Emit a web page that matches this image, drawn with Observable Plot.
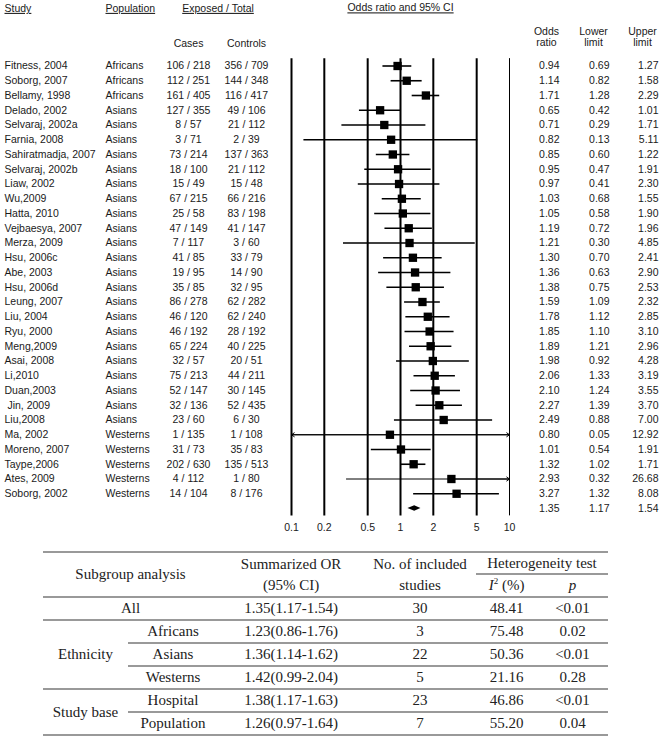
<!DOCTYPE html>
<html>
<head>
<meta charset="utf-8">
<script src="https://cdn.jsdelivr.net/npm/d3@7"></script>
<script src="https://cdn.jsdelivr.net/npm/@observablehq/plot@0.6"></script>
<style>
  html, body { margin: 0; padding: 0; background: #fff; }
  #wrap { position: relative; width: 662px; height: 741px; overflow: hidden; background:#fff; }
  #forest { position: absolute; left: 0; top: 0; }
  #tbl { position: absolute; left: 43px; top: 551px; width: 565px; table-layout: fixed;
         border-collapse: separate; border-spacing: 0; font-family: "Liberation Serif", "Times New Roman", serif;
         font-size: 15px; color: #222; }
  #tbl td { padding: 0; text-align: center; vertical-align: middle; line-height: 15px; white-space: nowrap; }
  #tbl tr { height: 23px; }
  #tbl tr.h1 { height: 24px; }
  #tbl .bt { border-top: 2px solid #999; }
  #tbl .bb { border-bottom: 2px solid #999; }
  #tbl sup { font-size: 9px; vertical-align: 6px; line-height: 0; }
</style>
</head>
<body>
<div id="wrap">
  <div id="forest"></div>
  <table id="tbl"></table>
</div>
<script>
// ---------- forest plot data ----------
const studies = ["Fitness, 2004","Soborg, 2007","Bellamy, 1998","Delado, 2002","Selvaraj, 2002a","Farnia, 2008",
  "Sahiratmadja, 2007","Selvaraj, 2002b","Liaw, 2002","Wu,2009","Hatta, 2010","Vejbaesya, 2007","Merza, 2009",
  "Hsu, 2006c","Abe, 2003","Hsu, 2006d","Leung, 2007","Liu, 2004","Ryu, 2000","Meng,2009","Asai, 2008","Li,2010",
  "Duan,2003","\u00a0Jin, 2009","Liu,2008","Ma, 2002","Moreno, 2007","Taype,2006","Ates, 2009","Soborg, 2002"];
const populations = ["Africans","Africans","Africans",
  "Asians","Asians","Asians","Asians","Asians","Asians","Asians","Asians","Asians","Asians","Asians",
  "Asians","Asians","Asians","Asians","Asians","Asians","Asians","Asians","Asians","Asians","Asians",
  "Westerns","Westerns","Westerns","Westerns","Westerns"];
const casesExposed  = [106,112,161,127,8,3,73,18,15,67,25,47,7,41,19,35,86,46,46,65,32,75,52,32,23,1,31,202,4,14];
const casesTotal    = [218,251,405,355,57,71,214,100,49,215,58,149,117,85,95,85,278,120,192,224,57,213,147,136,60,135,73,630,112,104];
const controlsExposed = [356,144,116,49,21,2,137,21,15,66,83,41,3,33,14,32,62,62,28,40,20,44,30,52,6,1,35,135,1,8];
const controlsTotal   = [709,348,417,106,112,39,363,112,48,216,198,147,60,79,90,95,282,240,192,225,51,211,145,435,30,108,83,513,80,176];
const oddsRatios = [0.94,1.14,1.71,0.65,0.71,0.82,0.85,0.95,0.97,1.03,1.05,1.19,1.21,1.30,1.36,1.38,1.59,1.78,1.85,1.89,1.98,2.06,2.10,2.27,2.49,0.80,1.01,1.32,2.93,3.27];
const lowerLimits = [0.69,0.82,1.28,0.42,0.29,0.13,0.60,0.47,0.41,0.68,0.58,0.72,0.30,0.70,0.63,0.75,1.09,1.12,1.10,1.21,0.92,1.33,1.24,1.39,0.88,0.05,0.54,1.02,0.32,1.32];
const upperLimits = [1.27,1.58,2.29,1.01,1.71,5.11,1.22,1.91,2.30,1.55,1.90,1.96,4.85,2.41,2.90,2.53,2.32,2.85,3.10,2.96,4.28,3.19,3.55,3.70,7.00,12.92,1.91,1.71,26.68,8.08];
const pooled = {or: 1.35, lo: 1.17, hi: 1.54};
const axisTicks = [0.1, 0.2, 0.5, 1, 2, 5, 10];

// ---------- subgroup table data ----------
const subgroupNames = ["All","Africans","Asians","Westerns","Hospital","Population"];
const subgroupOR = [1.35,1.23,1.36,1.42,1.38,1.26];
const subgroupLo = [1.17,0.86,1.14,0.99,1.17,0.97];
const subgroupHi = [1.54,1.76,1.62,2.04,1.63,1.64];
const subgroupN = [30,3,22,5,23,7];
const subgroupI2 = [48.41,75.48,50.36,21.16,46.86,55.20];
const subgroupP = ["<0.01","0.02","<0.01","0.28","<0.01","0.04"];

// ---------- build forest ----------
const xmin = axisTicks[0], xmax = axisTicks[axisTicks.length - 1];
const rows = studies.map((s, i) => ({
  i, study: s, pop: populations[i],
  cases: `${casesExposed[i]} / ${casesTotal[i]}`,
  controls: `${controlsExposed[i]} / ${controlsTotal[i]}`,
  or: oddsRatios[i], lo: lowerLimits[i], hi: upperLimits[i]
}));
const nRows = rows.length;
const numRows = [...rows, {i: nRows, or: pooled.or, lo: pooled.lo, hi: pooled.hi}];
const inside = rows.filter(d => d.lo >= xmin && d.hi <= xmax);
const clipped = rows.filter(d => d.lo < xmin || d.hi > xmax).map(d => ({...d, clo: Math.max(d.lo, xmin), chi: Math.min(d.hi, xmax)}));
const leftArrows = clipped.filter(d => d.lo < xmin);
const rightArrows = clipped.filter(d => d.hi > xmax);
const dh = 0.18;
const diamond = [
  {x: pooled.lo, y1: nRows, y2: nRows},
  {x: pooled.or, y1: nRows - dh, y2: nRows + dh},
  {x: pooled.hi, y1: nRows, y2: nRows}
];
const f2 = v => v.toFixed(2);
const ink = "#1a1a1a";
const L = 291, R = 509; // frame edges (layout)

const plot = Plot.plot({
  width: 662, height: 545,
  marginLeft: L, marginRight: 662 - R, marginTop: 0, marginBottom: 30,
  x: {type: "log", domain: [xmin, xmax], ticks: axisTicks, tickFormat: d => String(d), tickSize: 0, tickPadding: 8, label: null},
  y: {domain: [0, nRows], range: [65.5, 508], axis: null},
  style: {fontFamily: "'Liberation Sans', Arial, sans-serif", fontSize: "10.5px", color: ink, background: "#fff", overflow: "visible"},
  marks: [
    Plot.ruleX(axisTicks.filter(t => t !== xmax), {x: d => d, y1: -0.5, y2: nRows + 0.5, stroke: "#000", strokeWidth: 2}),
    Plot.ruleX([xmax], {x: d => d, y1: -0.5, y2: nRows + 0.5, stroke: "#000", strokeWidth: 1}),
    Plot.ruleY(inside, {y: "i", x1: "lo", x2: "hi", stroke: "#000", strokeWidth: 1.6}),
    Plot.ruleY(clipped, {y: "i", x1: "clo", x2: "chi", stroke: "#000", strokeWidth: 1}),
    Plot.arrow(leftArrows, {x1: "or", x2: () => xmin, y1: "i", y2: "i", stroke: "#000", strokeWidth: 1, headLength: 5, headAngle: 70}),
    Plot.arrow(rightArrows, {x1: "or", x2: () => xmax, y1: "i", y2: "i", stroke: "#000", strokeWidth: 1, headLength: 5, headAngle: 70}),
    Plot.dot(rows, {x: "or", y: "i", symbol: "square", r: 4.7, fill: "#000", stroke: null}),
    Plot.areaY(diamond, {x: "x", y1: "y1", y2: "y2", fill: "#000"}),
    // left text columns
    Plot.text(rows, {y: "i", text: "study", frameAnchor: "left", textAnchor: "start", dx: 4 - L, fill: ink}),
    Plot.text(rows, {y: "i", text: "pop", frameAnchor: "left", textAnchor: "start", dx: 105 - L, fill: ink}),
    Plot.text(rows, {y: "i", text: "cases", frameAnchor: "left", textAnchor: "middle", dx: 188 - L, fill: ink}),
    Plot.text(rows, {y: "i", text: "controls", frameAnchor: "left", textAnchor: "middle", dx: 246 - L, fill: ink}),
    // right numeric columns
    Plot.text(numRows, {y: "i", text: d => f2(d.or), frameAnchor: "right", textAnchor: "end", dx: 559 - R, fill: ink}),
    Plot.text(numRows, {y: "i", text: d => f2(d.lo), frameAnchor: "right", textAnchor: "end", dx: 609 - R, fill: ink}),
    Plot.text(numRows, {y: "i", text: d => f2(d.hi), frameAnchor: "right", textAnchor: "end", dx: 658 - R, fill: ink}),
    // headers
    Plot.text(["Study"], {text: d => d, frameAnchor: "top-left", textAnchor: "start", lineAnchor: "middle", dx: 4 - L, dy: 8, fill: ink}),
    Plot.text(["Population"], {text: d => d, frameAnchor: "top-left", textAnchor: "start", lineAnchor: "middle", dx: 105 - L, dy: 8, fill: ink}),
    Plot.text(["Exposed / Total"], {text: d => d, frameAnchor: "top-left", textAnchor: "middle", lineAnchor: "middle", dx: 217.5 - L, dy: 8, fill: ink}),
    Plot.text(["Cases"], {text: d => d, frameAnchor: "top-left", textAnchor: "middle", lineAnchor: "middle", dx: 188 - L, dy: 43, fill: ink}),
    Plot.text(["Controls"], {text: d => d, frameAnchor: "top-left", textAnchor: "middle", lineAnchor: "middle", dx: 246 - L, dy: 43, fill: ink}),
    Plot.text(["Odds ratio and 95% CI"], {text: d => d, frameAnchor: "top", textAnchor: "middle", lineAnchor: "middle", dy: 7.5, fill: ink}),
    Plot.text(["Odds"], {text: d => d, frameAnchor: "top-right", textAnchor: "middle", lineAnchor: "middle", dx: 546 - R, dy: 31, fill: ink}),
    Plot.text(["ratio"], {text: d => d, frameAnchor: "top-right", textAnchor: "middle", lineAnchor: "middle", dx: 546 - R, dy: 42, fill: ink}),
    Plot.text(["Lower"], {text: d => d, frameAnchor: "top-right", textAnchor: "middle", lineAnchor: "middle", dx: 593 - R, dy: 31, fill: ink}),
    Plot.text(["limit"], {text: d => d, frameAnchor: "top-right", textAnchor: "middle", lineAnchor: "middle", dx: 593 - R, dy: 42, fill: ink}),
    Plot.text(["Upper"], {text: d => d, frameAnchor: "top-right", textAnchor: "middle", lineAnchor: "middle", dx: 642 - R, dy: 31, fill: ink}),
    Plot.text(["limit"], {text: d => d, frameAnchor: "top-right", textAnchor: "middle", lineAnchor: "middle", dx: 642 - R, dy: 42, fill: ink})
  ]
});
document.getElementById("forest").appendChild(plot);
const underlined = new Set(["Study", "Population", "Exposed / Total", "Odds ratio and 95% CI"]);
plot.querySelectorAll("text").forEach(t => {
  if (underlined.has(t.textContent)) t.setAttribute("text-decoration", "underline");
});

// ---------- build table ----------
const tbl = document.getElementById("tbl");
const colW = [85, 90, 146, 112, 61, 71];
let html = "<colgroup>" + colW.map(w => `<col style="width:${w}px">`).join("") + "</colgroup>";
html += `<tr class="h1"><td colspan="2" rowspan="2" class="bt bb">Subgroup analysis</td><td class="bt">Summarized OR</td><td class="bt">No. of included</td><td colspan="2" class="bt bb">Heterogeneity test</td></tr>`;
html += `<tr><td class="bb">(95% CI)</td><td class="bb">studies</td><td class="bb"><i>I</i><sup>2</sup> (%)</td><td class="bb"><i>p</i></td></tr>`;
const orText = k => `${subgroupOR[k].toFixed(2)}(${subgroupLo[k].toFixed(2)}-${subgroupHi[k].toFixed(2)})`;
const cells = k => `<td class="bb">${orText(k)}</td><td class="bb">${subgroupN[k]}</td><td class="bb">${subgroupI2[k].toFixed(2)}</td><td class="bb">${subgroupP[k].replace("<", "&lt;")}</td>`;
html += `<tr><td colspan="2" class="bb">${subgroupNames[0]}</td>${cells(0)}</tr>`;
html += `<tr><td rowspan="3" class="bb">Ethnicity</td><td class="bb">${subgroupNames[1]}</td>${cells(1)}</tr>`;
html += `<tr><td class="bb">${subgroupNames[2]}</td>${cells(2)}</tr>`;
html += `<tr><td class="bb">${subgroupNames[3]}</td>${cells(3)}</tr>`;
html += `<tr><td rowspan="2" class="bb">Study base</td><td class="bb">${subgroupNames[4]}</td>${cells(4)}</tr>`;
html += `<tr><td class="bb">${subgroupNames[5]}</td>${cells(5)}</tr>`;
tbl.innerHTML = html;
</script>
</body>
</html>
